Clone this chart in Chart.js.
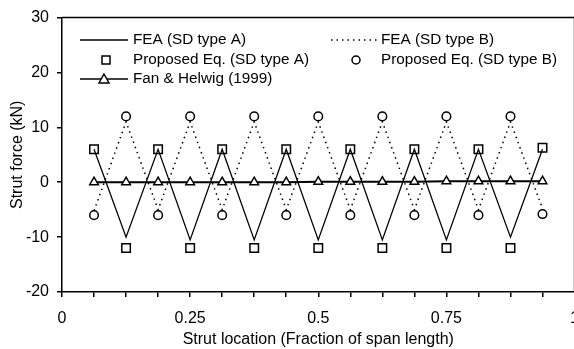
<!DOCTYPE html>
<html>
<head>
<meta charset="utf-8">
<script src="https://cdn.jsdelivr.net/npm/chart.js@4/dist/chart.umd.min.js"></script>
<style>
  html, body { margin: 0; padding: 0; background: #fff; overflow: hidden; }
  #wrap { position: relative; width: 591px; height: 349px; }
</style>
</head>
<body>
<div id="wrap"><canvas id="c"></canvas></div>
<script>
// ---- data ----
const strutLocation = [0.0625, 0.125, 0.1875, 0.25, 0.3125, 0.375, 0.4375, 0.5, 0.5625, 0.625, 0.6875, 0.75, 0.8125, 0.875, 0.9375];
const feaTypeA      = [6, -10, 6, -10.5, 6, -10.5, 6, -10.5, 6, -10.5, 6, -10.5, 6, -10, 6];
const feaTypeB      = [-5.2, 11, -5, 11, -5, 11, -5, 11, -5, 11, -5, 11, -5, 11, -4.8];
const proposedA     = [6, -12, 6, -12, 6, -12, 6, -12, 6, -12, 6, -12, 6, -12, 6.3];
const proposedB     = [-6, 12, -6, 12, -6, 12, -6, 12, -6, 12, -6, 12, -6, 12, -5.8];
const fanHelwig     = [0, 0, 0, 0, 0, 0, 0, 0.1, 0.1, 0.1, 0.1, 0.2, 0.2, 0.2, 0.2];
const xTickLabels   = ['0', '0.25', '0.5', '0.75', '1'];
const yTicks        = [-20, -10, 0, 10, 20, 30];
const legendLabels  = ['FEA (SD type A)', 'FEA (SD type B)', 'Proposed Eq. (SD type A)', 'Proposed Eq. (SD type B)', 'Fan & Helwig (1999)'];

const FONT = '"Liberation Sans", Arial, Helvetica, sans-serif';
const pts = arr => strutLocation.map((x, i) => ({ x: x, y: arr[i] }));

const frame = {
  id: 'frame',
  afterDatasetsDraw(chart) {
    const { ctx, chartArea: a } = chart;
    ctx.save();
    ctx.strokeStyle = '#000';
    ctx.lineWidth = 1.5;
    ctx.beginPath();
    ctx.moveTo(a.left, a.top); ctx.lineTo(a.right, a.top); ctx.lineTo(a.right, a.bottom);
    ctx.stroke();
    ctx.restore();
  }
};

const legendPlugin = {
  id: 'customLegend',
  afterDraw(chart) {
    const ctx = chart.ctx;
    ctx.save();
    ctx.font = '15.3px ' + FONT;
    ctx.fillStyle = '#000';
    ctx.textBaseline = 'middle';
    ctx.strokeStyle = '#000';
    const rows = [40, 60, 79];
    // FEA A
    ctx.lineWidth = 1.3;
    ctx.beginPath(); ctx.moveTo(80, rows[0]); ctx.lineTo(128, rows[0]); ctx.stroke();
    ctx.fillText(legendLabels[0], 133, rows[0]);
    // FEA B
    ctx.setLineDash([1.5, 4]);
    ctx.beginPath(); ctx.moveTo(331, rows[0]); ctx.lineTo(377, rows[0]); ctx.stroke();
    ctx.setLineDash([]);
    ctx.fillText(legendLabels[1], 381, rows[0]);
    // Proposed A square
    ctx.lineWidth = 1.5;
    ctx.fillStyle = '#fff';
    ctx.fillRect(102, rows[1] - 4, 8, 8);
    ctx.strokeRect(102, rows[1] - 4, 8, 8);
    ctx.fillStyle = '#000';
    ctx.fillText(legendLabels[2], 133, rows[1]);
    // Proposed B circle
    ctx.beginPath(); ctx.arc(356, rows[1], 4, 0, Math.PI * 2);
    ctx.fillStyle = '#fff'; ctx.fill(); ctx.stroke();
    ctx.fillStyle = '#000';
    ctx.fillText(legendLabels[3], 381, rows[1]);
    // Fan & Helwig
    ctx.lineWidth = 1.5;
    ctx.beginPath(); ctx.moveTo(80, rows[2]); ctx.lineTo(128, rows[2]); ctx.stroke();
    ctx.beginPath();
    ctx.moveTo(104, rows[2] - 5); ctx.lineTo(109, rows[2] + 4); ctx.lineTo(99, rows[2] + 4); ctx.closePath();
    ctx.fillStyle = '#fff'; ctx.fill(); ctx.stroke();
    ctx.fillStyle = '#000';
    ctx.fillText(legendLabels[4], 133, rows[2]);
    ctx.restore();
  }
};

new Chart(document.getElementById('c'), {
  type: 'scatter',
  data: {
    datasets: [
      { label: legendLabels[0], data: pts(feaTypeA), showLine: true, borderColor: '#000', borderWidth: 1.3, pointRadius: 0, fill: false },
      { label: legendLabels[1], data: pts(feaTypeB), showLine: true, borderColor: '#000', borderWidth: 1.5, borderDash: [1.5, 4], pointRadius: 0, fill: false },
      { label: legendLabels[4], data: pts(fanHelwig), showLine: true, borderColor: '#000', borderWidth: 2, pointStyle: 'triangle', pointRadius: 5, pointBackgroundColor: '#fff', pointBorderColor: '#000', pointBorderWidth: 1.5 },
      { label: legendLabels[2], data: pts(proposedA), showLine: false, pointStyle: 'rect', pointRadius: 6, pointBackgroundColor: '#fff', pointBorderColor: '#000', pointBorderWidth: 1.5 },
      { label: legendLabels[3], data: pts(proposedB), showLine: false, pointStyle: 'circle', pointRadius: 4.3, pointBackgroundColor: '#fff', pointBorderColor: '#000', pointBorderWidth: 1.5 }
    ]
  },
  options: {
    responsive: true,
    maintainAspectRatio: false,
    animation: false,
    layout: { padding: { top: 13, right: 0, left: 0, bottom: 0 } },
    plugins: { legend: { display: false }, tooltip: { enabled: false } },
    scales: {
      x: {
        type: 'linear', min: 0, max: 1,
        afterBuildTicks(scale) {
          scale.ticks = strutLocation.concat([0, 1]).sort((a, b) => a - b).map(v => ({ value: v }));
        },
        ticks: {
          autoSkip: false, maxRotation: 0, padding: 12,
          color: '#000', font: { family: FONT, size: 16 },
          callback(v) {
            const idx = [0, 0.25, 0.5, 0.75, 1].indexOf(v);
            return idx >= 0 ? xTickLabels[idx] : '';
          }
        },
        grid: { display: true, drawOnChartArea: false, drawTicks: true, tickLength: 5, color: '#000', lineWidth: 1.5 },
        border: { display: true, color: '#000', width: 1.5 },
        title: { display: true, text: 'Strut location (Fraction of span length)', color: '#000', font: { family: FONT, size: 16 }, padding: { top: 1, bottom: 0 } },
        afterFit(scale) { scale.height = 57; }
      },
      y: {
        type: 'linear', min: -20, max: 30,
        afterBuildTicks(scale) { scale.ticks = yTicks.map(v => ({ value: v })); },
        ticks: { padding: 8, color: '#000', font: { family: FONT, size: 16 } },
        grid: { display: true, drawOnChartArea: false, drawTicks: true, tickLength: 5, color: '#000', lineWidth: 1.5 },
        border: { display: true, color: '#000', width: 1.5 },
        title: { display: true, text: 'Strut force (kN)', color: '#000', font: { family: FONT, size: 16 }, padding: { top: 8, bottom: 4 } },
        afterFit(scale) { scale.width = 62; }
      }
    }
  },
  plugins: [frame, legendPlugin]
});
</script>
</body>
</html>
